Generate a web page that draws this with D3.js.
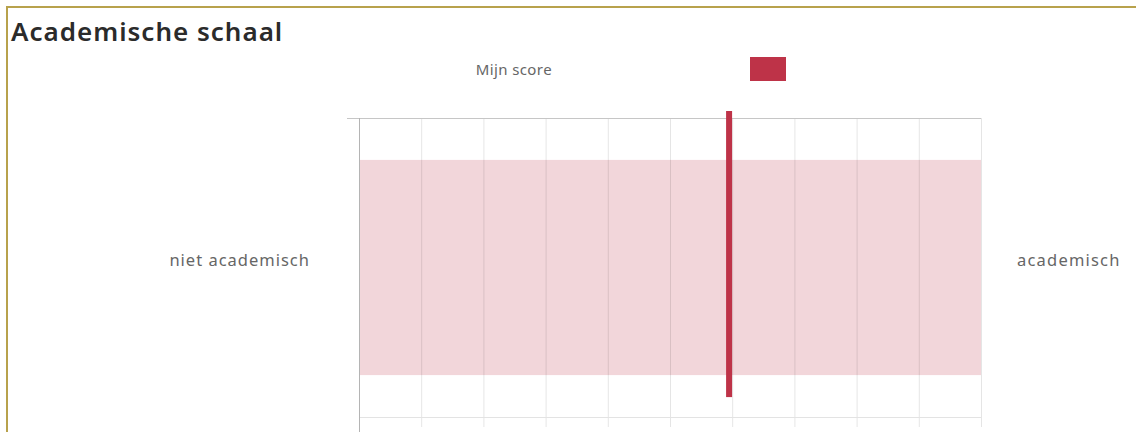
<!DOCTYPE html>
<html>
<head>
<meta charset="utf-8">
<script src="https://cdn.jsdelivr.net/npm/d3@7"></script>
<style>
  html, body { margin: 0; padding: 0; background: #fff; }
  svg { display: block; }
  text { font-family: "Noto Sans", "Open Sans", sans-serif; }
</style>
</head>
<body>
<div class="chart"></div>
<script>
// data
var title = "Academische schaal";
var categories = ["niet academisch"];
var rightLabels = ["academisch"];
var bandLow = [0];      // pink band start
var bandHigh = [10];    // pink band end
var scores = [5.95];    // Mijn score
var legendLabel = "Mijn score";
var xTicks = [0, 1, 2, 3, 4, 5, 6, 7, 8, 9, 10];

(function() {
    var width = 1136, height = 432;
    var red = "#be3348", pink = "#f2d6da";

    var svg = d3.select(".chart").append("svg")
        .attr("width", width)
        .attr("height", height);

    // card border (right and bottom run off the page)
    svg.append("rect")
        .attr("x", 7).attr("y", 7)
        .attr("width", width + 20).attr("height", height + 20)
        .attr("fill", "none")
        .attr("stroke", "#b8a24c")
        .attr("stroke-width", 2);

    svg.append("text")
        .attr("x", 11).attr("y", 41)
        .attr("font-size", 26)
        .attr("font-weight", 600)
        .attr("letter-spacing", 1)
        .attr("fill", "#2b2b2b")
        .text(title);

    // scales
    var x = d3.scaleLinear().domain([0, 10]).range([359, 981]);
    var y = d3.scaleBand().domain(categories).range([118, 417]).padding(0.163);
    var yTop = y.range()[0], yBottom = y.range()[1];

    // legend
    svg.append("text")
        .attr("x", 552).attr("y", 75)
        .attr("text-anchor", "end")
        .attr("font-size", 15)
        .attr("letter-spacing", 0.4)
        .attr("fill", "#666")
        .text(legendLabel);
    svg.append("rect")
        .attr("x", 750).attr("y", 57)
        .attr("width", 36).attr("height", 24)
        .attr("fill", red);

    // band
    svg.append("g").selectAll("rect")
        .data(categories)
        .enter().append("rect")
        .attr("x", function(d, i) { return x(bandLow[i]); })
        .attr("width", function(d, i) { return x(bandHigh[i]) - x(bandLow[i]); })
        .attr("y", function(d) { return y(d); })
        .attr("height", y.bandwidth())
        .attr("fill", pink);

    // vertical gridlines
    svg.append("g").selectAll("line")
        .data(xTicks.slice(1))
        .enter().append("line")
        .attr("x1", function(d) { return x(d) + 0.5; })
        .attr("x2", function(d) { return x(d) + 0.5; })
        .attr("y1", yTop)
        .attr("y2", yBottom + 10)
        .attr("stroke", "#000")
        .attr("stroke-opacity", 0.1);

    // horizontal lines
    svg.append("line")
        .attr("x1", x(0) - 12).attr("x2", x(10))
        .attr("y1", yTop + 0.5).attr("y2", yTop + 0.5)
        .attr("stroke", "#c6c6c6");
    svg.append("line")
        .attr("x1", x(0)).attr("x2", x(10))
        .attr("y1", yBottom + 0.5).attr("y2", yBottom + 0.5)
        .attr("stroke", "#e3e3e3");

    // left axis
    svg.append("line")
        .attr("x1", x(0) + 0.5).attr("x2", x(0) + 0.5)
        .attr("y1", yTop).attr("y2", height)
        .attr("stroke", "#b4b4b4");

    // category labels
    svg.append("g").selectAll("text")
        .data(categories)
        .enter().append("text")
        .attr("x", 310)
        .attr("y", function(d) { return y(d) + y.bandwidth() / 2 - 2; })
        .attr("text-anchor", "end")
        .attr("font-size", 16.5)
        .attr("letter-spacing", 1)
        .attr("fill", "#666")
        .text(function(d) { return d; });
    svg.append("g").selectAll("text")
        .data(rightLabels)
        .enter().append("text")
        .attr("x", 1017)
        .attr("y", function(d, i) { return y(categories[i]) + y.bandwidth() / 2 - 2; })
        .attr("font-size", 16.5)
        .attr("letter-spacing", 1.2)
        .attr("fill", "#666")
        .text(function(d) { return d; });

    // score line
    svg.append("g").selectAll("rect")
        .data(scores)
        .enter().append("rect")
        .attr("x", function(d) { return x(d) - 3; })
        .attr("width", 6)
        .attr("y", yTop - 7)
        .attr("height", function() { return (y(categories[0]) + y.bandwidth() + 22) - (yTop - 7); })
        .attr("fill", red);
})();
</script>
</body>
</html>
